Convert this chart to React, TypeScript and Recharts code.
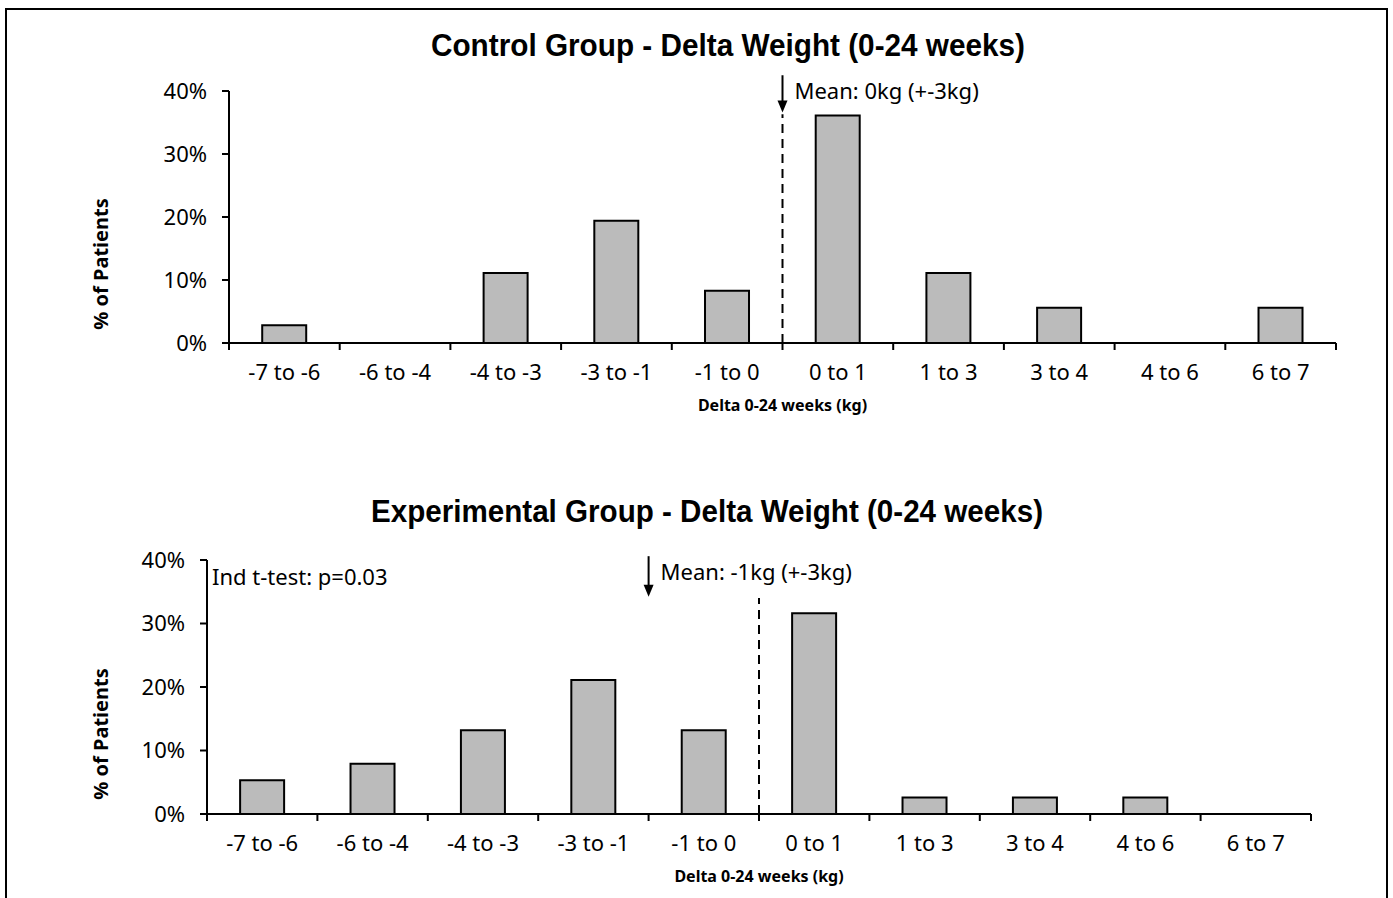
import { BarChart, Bar, XAxis, YAxis, ReferenceLine } from 'recharts'

// bins of weight change (kg)
const categories = ['-7 to -6', '-6 to -4', '-4 to -3', '-3 to -1', '-1 to 0', '0 to 1', '1 to 3', '3 to 4', '4 to 6', '6 to 7']

// % of patients per bin
const controlPct = [2.8, 0, 11.1, 19.4, 8.3, 36.1, 11.1, 5.6, 0, 5.6]
const experimentalPct = [5.3, 7.9, 13.2, 21.1, 13.2, 31.6, 2.6, 2.6, 2.6, 0]

const yTicks = [0, 10, 20, 30, 40]
// bin edges get a tick mark, bin centres get the label
const xTicks = [0, 0.5, 1, 1.5, 2, 2.5, 3, 3.5, 4, 4.5, 5, 5.5, 6, 6.5, 7, 7.5, 8, 8.5, 9, 9.5, 10]

const W = 1393
const H = 449

const tickFont = "'Noto Sans', sans-serif"
const titleFont = "'Liberation Sans', Arial, sans-serif"

type PanelProps = {
  title: string
  titleLen: number
  values: number[]
  left: number
  right: number
  top: number
  bottom: number
  titleX: number
  titleY: number
  arrowEdge: number
  arrowFrom: number
  arrowTo: number
  meanText: string
  dashTop: number
  note?: string
}

function BinTick(props: any) {
  const { x, y, payload } = props
  const v = payload.value as number
  if (Number.isInteger(v)) {
    return <line x1={x} y1={y} x2={x} y2={y + 7} stroke="#000" strokeWidth={2} />
  }
  return (
    <text x={x} y={y + 21} dy="0.71em" textAnchor="middle" fontFamily={tickFont} fontSize={22} fill="#000">
      {categories[Math.floor(v)]}
    </text>
  )
}

function Arrow(props: any) {
  const { x1, y1, x2, y2, text } = props
  return (
    <g>
      <line x1={x1} y1={y1} x2={x2} y2={y2 - 10} stroke="#000" strokeWidth={2} />
      <polygon points={`${x2 - 5},${y2 - 12} ${x2 + 5},${y2 - 12} ${x2},${y2}`} fill="#000" />
      <text x={x1 + 12} y={y1 + 24} fontFamily={tickFont} fontSize={22} fill="#000">
        {text}
      </text>
    </g>
  )
}

function Panel(p: PanelProps) {
  const data = categories.map((c, i) => ({ name: c, mid: i + 0.5, pct: p.values[i] }))
  const plotW = p.right - p.left
  const plotH = p.bottom - p.top
  return (
    <BarChart
      width={W}
      height={H}
      data={data}
      margin={{ top: p.top, left: p.left - 60, right: W - p.right, bottom: H - p.bottom - 30 }}
      barCategoryGap="30%"
    >
      <XAxis
        dataKey="mid"
        type="number"
        domain={[0, 10]}
        allowDataOverflow
        ticks={xTicks}
        interval={0}
        height={30}
        tickSize={0}
        tickMargin={0}
        tickLine={false}
        axisLine={{ stroke: '#000', strokeWidth: 2 }}
        tick={<BinTick />}
      />
      <YAxis
        width={60}
        domain={[0, 40]}
        ticks={yTicks}
        tickFormatter={(v: number) => `${v}%`}
        tickSize={7}
        tickMargin={15}
        axisLine={{ stroke: '#000', strokeWidth: 2 }}
        tickLine={{ stroke: '#000', strokeWidth: 2 }}
        tick={{ fill: '#000', fontFamily: tickFont, fontSize: 22 }}
      />
      <Bar dataKey="pct" fill="#bbbbbb" stroke="#000" strokeWidth={2} isAnimationActive={false} />
      <ReferenceLine
        segment={[{ x: 5, y: 0 }, { x: 5, y: p.dashTop }]}
        stroke="#000"
        strokeWidth={2}
        strokeDasharray="9 6"
        ifOverflow="visible"
      />
      <ReferenceLine
        segment={[{ x: p.arrowEdge, y: p.arrowFrom }, { x: p.arrowEdge, y: p.arrowTo }]}
        ifOverflow="visible"
        shape={(lp: any) => <Arrow {...lp} text={p.meanText} />}
      />
      <text
        x={p.titleX}
        y={p.titleY}
        textAnchor="middle"
        fontFamily={titleFont}
        fontWeight="bold"
        fontSize={32}
        textLength={p.titleLen}
        lengthAdjust="spacingAndGlyphs"
        fill="#000"
      >
        {p.title}
      </text>
      <text
        transform={`translate(108, ${p.top + plotH / 2 + 47}) rotate(-90)`}
        textAnchor="middle"
        fontFamily={tickFont}
        fontWeight="bold"
        fontSize={20}
        fill="#000"
      >
        % of Patients
      </text>
      <text
        x={p.left + plotW / 2}
        y={p.bottom + 68}
        textAnchor="middle"
        fontFamily={tickFont}
        fontWeight="bold"
        fontSize={16}
        fill="#000"
      >
        Delta 0-24 weeks (kg)
      </text>
      {p.note && (
        <text x={p.left + 5} y={p.top + 25} fontFamily={tickFont} fontSize={22} fill="#000">
          {p.note}
        </text>
      )}
    </BarChart>
  )
}

export default function App() {
  return (
    <div style={{ position: 'absolute', left: 0, top: 0, width: W, height: 898, overflow: 'hidden', background: '#fff' }}>
      <div
        style={{
          position: 'absolute',
          left: 5,
          top: 8,
          width: 1383,
          height: 920,
          border: '2px solid #000',
          boxSizing: 'border-box',
        }}
      />
      <div style={{ position: 'absolute', left: 0, top: 0 }}>
        <Panel
          title="Control Group - Delta Weight (0-24 weeks)"
          titleLen={594}
          values={controlPct}
          left={229}
          right={1336}
          top={91}
          bottom={343}
          titleX={728}
          titleY={56}
          arrowEdge={5}
          arrowFrom={42.5}
          arrowTo={36.6}
          meanText="Mean: 0kg (+-3kg)"
          dashTop={36.3}
        />
      </div>
      <div style={{ position: 'absolute', left: 0, top: H }}>
        <Panel
          title="Experimental Group - Delta Weight (0-24 weeks)"
          titleLen={672}
          values={experimentalPct}
          left={207}
          right={1311}
          top={111}
          bottom={365}
          titleX={707}
          titleY={73}
          arrowEdge={4}
          arrowFrom={40.6}
          arrowTo={34.2}
          meanText="Mean: -1kg (+-3kg)"
          dashTop={34}
          note="Ind t-test: p=0.03"
        />
      </div>
    </div>
  )
}
